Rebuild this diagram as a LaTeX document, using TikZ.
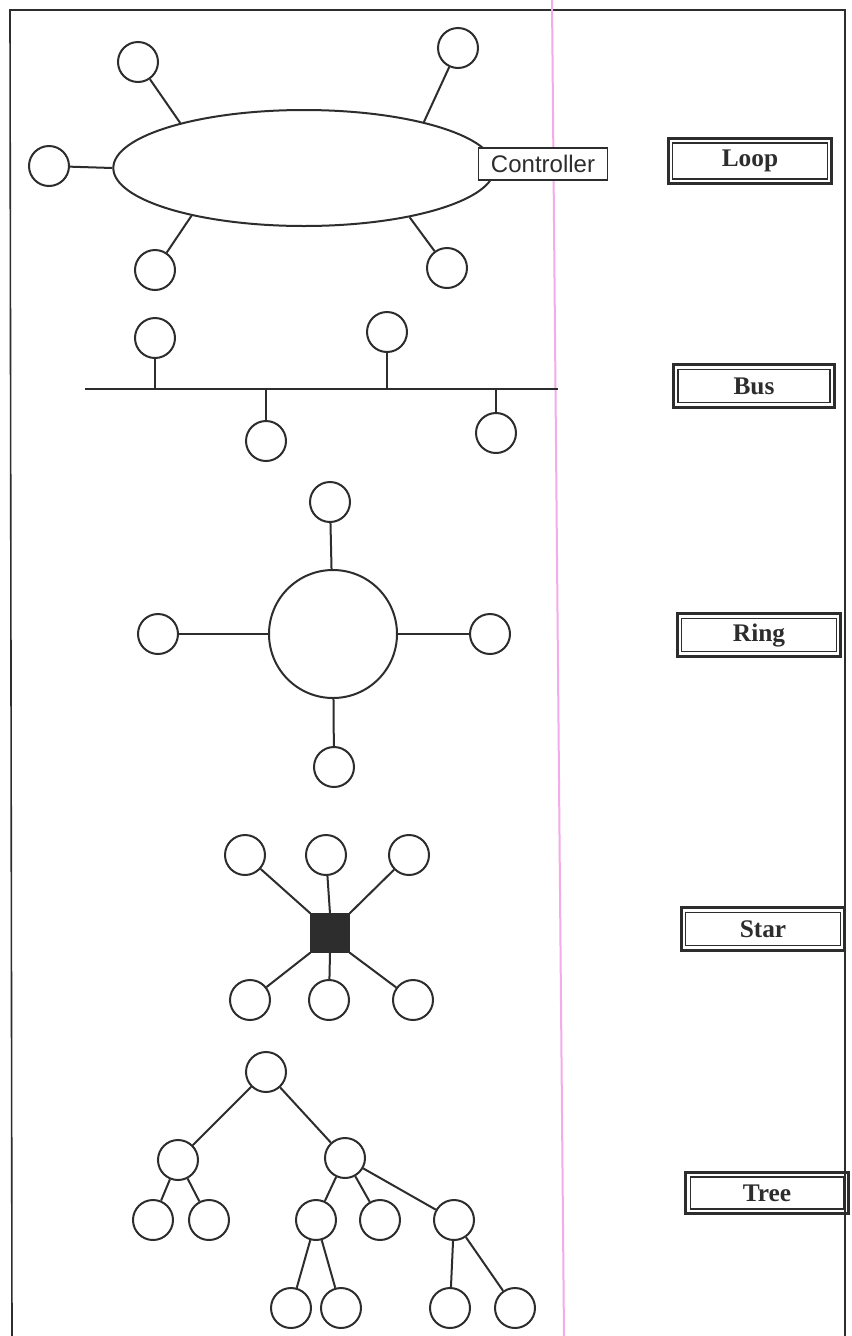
\documentclass[tikz,border=0pt]{standalone}
\usepackage{fontspec}
\setmainfont{Liberation Serif}
\newfontfamily\ctrlfont{Liberation Sans}
\usetikzlibrary{shapes.geometric}
\definecolor{ink}{RGB}{45,45,45}
\definecolor{pinkline}{RGB}{245,170,235}
\tikzset{
  x=0.75pt, y=-0.75pt,
  wire/.style={draw=ink, line width=1.5pt},
  dev/.style={circle, draw=ink, line width=1.5pt, minimum size=30pt, inner sep=0pt},
  lbl/.style={rectangle, draw=ink, line width=0.9pt, inner sep=0pt,
    font=\fontsize{19}{21}\selectfont\bfseries, text=ink},
  lblouter/.style={draw=ink, line width=2.2pt},
  ctrl/.style={rectangle, draw=ink, line width=1.2pt, fill=white, minimum width=97pt,
    minimum height=24pt, inner sep=0pt, font=\ctrlfont\fontsize{18}{20}\selectfont, text=ink}
}
\begin{document}
\begin{tikzpicture}
\useasboundingbox (0,0) rectangle (851,1336);
\fill[white] (0,0) rectangle (851,1336);
% frame
\draw[wire, line width=1.2pt] (12,1336) -- (10,10) -- (845,10) -- (845,1336);
\draw[draw=pinkline, line width=1.5pt] (552,0) -- (564,1336);

% ---------- Loop ----------
\node[ellipse, draw=ink, line width=1.5pt, minimum width=286pt, minimum height=87pt, inner sep=0pt] (ell) at (304,168) {};
\node[dev] (l1) at (138,62) {};
\node[dev] (l2) at (458,48) {};
\node[dev] (l3) at (49,166) {};
\node[dev] (l4) at (155,270) {};
\node[dev] (l5) at (447,268) {};
\draw[wire] (l1) -- (ell.160);
\draw[wire] (l2) -- (ell.21);
\draw[wire] (l3) -- (ell.180);
\draw[wire] (l4) -- (ell.203);
\draw[wire] (l5) -- (ell.335);
\node[ctrl] (ctrl) at (543,164) {Controller};
\node[lbl, minimum width=116pt, minimum height=27pt] (loop) at (750,161) {Loop};
\draw[lblouter] ([shift={(-3pt,3pt)}]loop.north west) rectangle ([shift={(3pt,-3pt)}]loop.south east);

% ---------- Bus ----------
\coordinate (bl) at (85,389);
\coordinate (br) at (558,389);
\draw[wire] (bl) -- (br);
\node[dev] (b1) at (155,338) {};
\node[dev] (b2) at (387,332) {};
\node[dev] (b3) at (266,441) {};
\node[dev] (b4) at (496,433) {};
\coordinate (t1) at (155,389);
\coordinate (t2) at (387,389);
\coordinate (t3) at (266,389);
\coordinate (t4) at (496,389);
\draw[wire] (b1) -- (t1);
\draw[wire] (b2) -- (t2);
\draw[wire] (b3) -- (t3);
\draw[wire] (b4) -- (t4);
\node[lbl, minimum width=114pt, minimum height=25pt] (bus) at (754,386) {Bus};
\draw[lblouter] ([shift={(-3pt,3pt)}]bus.north west) rectangle ([shift={(3pt,-3pt)}]bus.south east);

% ---------- Ring ----------
\node[circle, draw=ink, line width=1.5pt, minimum size=96pt, inner sep=0pt] (ring) at (333,634) {};
\node[dev] (r1) at (330,502) {};
\node[dev] (r2) at (158,634) {};
\node[dev] (r3) at (490,634) {};
\node[dev] (r4) at (334,767) {};
\draw[wire] (r1) -- (ring);
\draw[wire] (r2) -- (ring);
\draw[wire] (r3) -- (ring);
\draw[wire] (r4) -- (ring);
\node[lbl, minimum width=116pt, minimum height=25pt] (ringl) at (759,635) {Ring};
\draw[lblouter] ([shift={(-3pt,3pt)}]ringl.north west) rectangle ([shift={(3pt,-3pt)}]ringl.south east);

% ---------- Star ----------
\node[rectangle, fill=ink, draw=ink, minimum size=29pt, inner sep=0pt] (hub) at (330,933) {};
\node[dev] (s1) at (245,855) {};
\node[dev] (s2) at (326,855) {};
\node[dev] (s3) at (409,855) {};
\node[dev] (s4) at (250,1000) {};
\node[dev] (s5) at (329,1000) {};
\node[dev] (s6) at (413,1000) {};
\draw[wire] (s1) -- (hub.north west);
\draw[wire] (s2) -- (hub.north);
\draw[wire] (s3) -- (hub.north east);
\draw[wire] (s4) -- (hub.south west);
\draw[wire] (s5) -- (hub.south);
\draw[wire] (s6) -- (hub.south east);
\node[lbl, minimum width=116pt, minimum height=25pt] (star) at (763,929) {Star};
\draw[lblouter] ([shift={(-3pt,3pt)}]star.north west) rectangle ([shift={(3pt,-3pt)}]star.south east);

% ---------- Tree ----------
\node[dev] (n0) at (266,1072) {};
\node[dev] (n1) at (178,1160) {};
\node[dev] (n2) at (345,1158) {};
\node[dev] (n11) at (153,1220) {};
\node[dev] (n12) at (209,1220) {};
\node[dev] (n21) at (316,1220) {};
\node[dev] (n22) at (380,1220) {};
\node[dev] (n23) at (454,1220) {};
\node[dev] (n211) at (291,1308) {};
\node[dev] (n212) at (341,1308) {};
\node[dev] (n231) at (450,1308) {};
\node[dev] (n232) at (515,1308) {};
\draw[wire] (n0) -- (n1);
\draw[wire] (n0) -- (n2);
\draw[wire] (n1) -- (n11);
\draw[wire] (n1) -- (n12);
\draw[wire] (n2) -- (n21);
\draw[wire] (n2) -- (n22);
\draw[wire] (n2) -- (n23);
\draw[wire] (n21) -- (n211);
\draw[wire] (n21) -- (n212);
\draw[wire] (n23) -- (n231);
\draw[wire] (n23) -- (n232);
\node[lbl, minimum width=115pt, minimum height=24pt] (tree) at (767,1193) {Tree};
\draw[lblouter] ([shift={(-3pt,3pt)}]tree.north west) rectangle ([shift={(3pt,-3pt)}]tree.south east);
\end{tikzpicture}
\end{document}
